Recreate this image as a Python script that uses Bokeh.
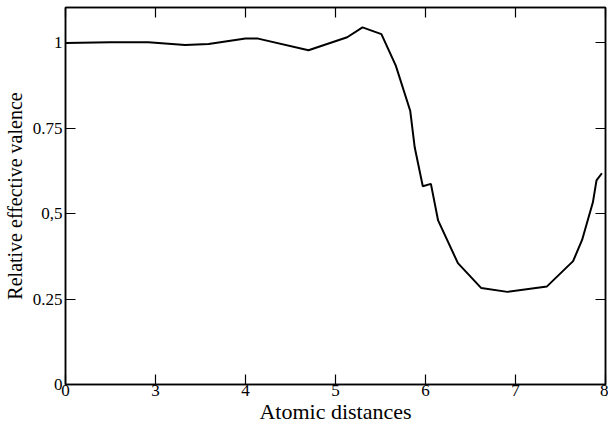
from bokeh.plotting import figure
from bokeh.models import FixedTicker, LinearAxis, Range1d
from bokeh.embed import file_html
from bokeh.resources import INLINE

# data (atomic distance, relative effective valence)
dist = [2.0, 2.5, 2.92, 3.33, 3.59, 4.0, 4.14, 4.70, 5.13, 5.30, 5.51, 5.67,
        5.83, 5.88, 5.97, 6.06, 6.14, 6.36, 6.62, 6.91, 7.35, 7.64, 7.74,
        7.86, 7.90, 7.96]
valence = [0.999, 1.001, 1.001, 0.993, 0.996, 1.012, 1.012, 0.978, 1.016,
           1.045, 1.025, 0.933, 0.801, 0.694, 0.580, 0.587, 0.480, 0.355,
           0.282, 0.271, 0.287, 0.361, 0.423, 0.533, 0.597, 0.618]

x_ticks = [2, 3, 4, 5, 6, 7, 8]
x_tick_labels = {2: "0", 3: "3", 4: "4", 5: "5", 6: "6", 7: "7", 8: "8"}
y_ticks = [0, 0.25, 0.5, 0.75, 1]
y_tick_labels = {0: "0", 0.25: "0.25", 0.5: "0,5", 0.75: "0.75", 1: "1"}

FONT = "Liberation Serif"

p = figure(width=608, height=429, output_backend="svg", toolbar_location=None,
           x_range=Range1d(2, 8), y_range=Range1d(0, 1.103),
           min_border_left=65, min_border_right=3, min_border_top=7,
           min_border_bottom=45)
p.grid.visible = False
p.outline_line_color = "black"
p.outline_line_width = 1.5
p.background_fill_color = "white"
p.border_fill_color = "white"

p.line(dist, valence, line_color="black", line_width=2)

def style(ax, labels=True, title_size="20px"):
    ax.axis_line_color = "black"
    ax.axis_line_width = 1.5
    ax.major_tick_in = 10
    ax.major_tick_out = 0
    ax.major_tick_line_width = 1.2
    ax.minor_tick_line_color = None
    ax.major_label_text_font = FONT
    ax.major_label_text_font_size = "17px"
    ax.major_label_text_color = "black"
    ax.axis_label_text_font = FONT
    ax.axis_label_text_font_size = title_size
    ax.axis_label_text_font_style = "normal"
    ax.axis_label_text_color = "black"
    if not labels:
        ax.major_label_text_font_size = "0px"
        ax.major_label_text_color = None
        ax.major_label_standoff = 0
        ax.axis_label_standoff = 0

xa = p.xaxis[0]
xa.ticker = FixedTicker(ticks=x_ticks)
xa.major_label_overrides = x_tick_labels
xa.axis_label = "Atomic distances"
xa.major_label_standoff = 0
xa.axis_label_standoff = 0
style(xa, title_size="22px")

ya = p.yaxis[0]
ya.ticker = FixedTicker(ticks=y_ticks)
ya.major_label_overrides = y_tick_labels
ya.axis_label = "Relative effective valence"
ya.major_label_standoff = 3
ya.axis_label_standoff = 4
style(ya, title_size="20px")

top = LinearAxis(ticker=FixedTicker(ticks=x_ticks))
style(top, labels=False)
p.add_layout(top, "above")
right = LinearAxis(ticker=FixedTicker(ticks=y_ticks))
style(right, labels=False)
p.add_layout(right, "right")

open("out.html", "w").write(file_html(p, INLINE))
